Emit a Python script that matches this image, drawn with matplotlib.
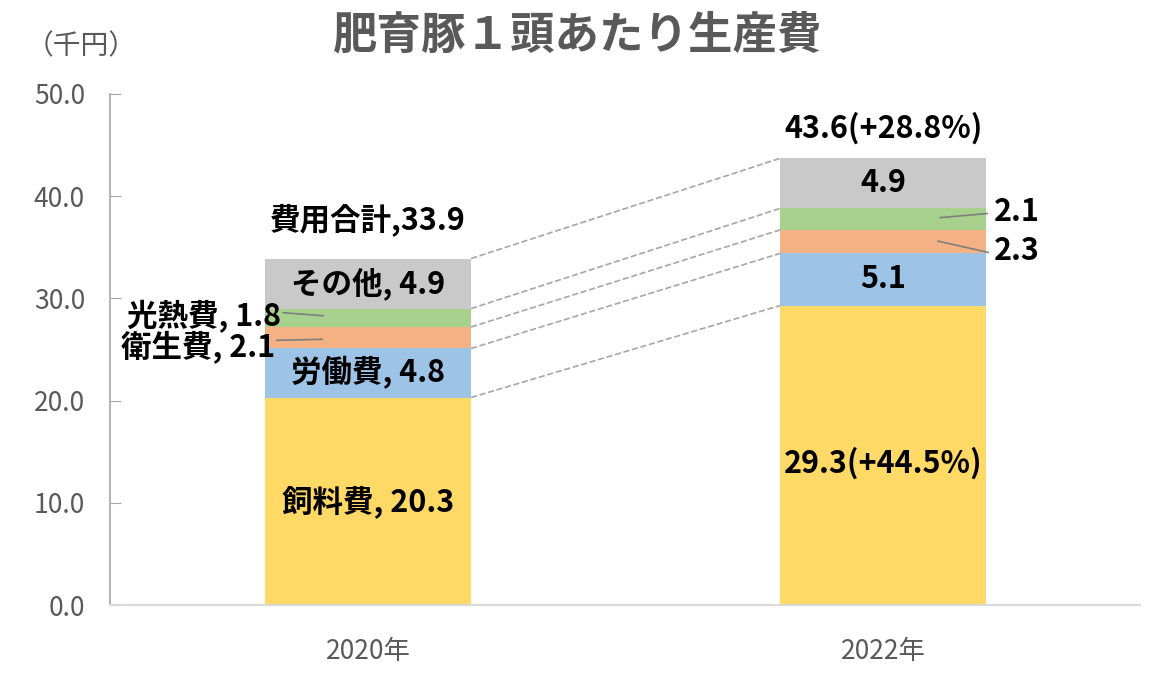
import matplotlib.pyplot as plt
import numpy as np

plt.rcParams['font.family'] = ['Noto Sans CJK JP', 'DejaVu Sans']

years = ['2020年', '2022年']
categories = ['飼料費', '労働費', '衛生費', '光熱費', 'その他']
values_2020 = [20.3, 4.8, 2.1, 1.8, 4.9]
values_2022 = [29.3, 5.1, 2.3, 2.1, 4.9]
total_2020 = 33.9
total_2022 = 43.6
change_total = 28.8
change_feed = 44.5
colors = ['#FFD966', '#9DC3E6', '#F4B183', '#A9D18E', '#C9C9C9']

fig = plt.figure(figsize=(11.56, 6.76), dpi=100)
ax = fig.add_axes([0.0952, 0.105, 0.891, 0.756])

x = np.arange(len(years))
width = 0.4
bottom = np.zeros(2)
tops = []
for i, cat in enumerate(categories):
    vals = np.array([values_2020[i], values_2022[i]])
    ax.bar(x, vals, width, bottom=bottom, color=colors[i], linewidth=0, zorder=2)
    bottom = bottom + vals
    tops.append(bottom.copy())

# 棒の間の点線
for t in tops:
    ax.plot([x[0] + width / 2, x[1] - width / 2], [t[0], t[1]],
            ls='--', color='#A6A6A6', lw=1.2, zorder=1)

lab = dict(fontsize=22, fontweight='bold', color='black', ha='center', va='center')

# 2020年ラベル
c0 = np.cumsum([0] + values_2020)
ax.text(x[0], c0[0] + values_2020[0] / 2, f'{categories[0]}, {values_2020[0]}', **lab)
ax.text(x[0], c0[1] + values_2020[1] / 2, f'{categories[1]}, {values_2020[1]}', **lab)
ax.text(x[0], c0[4] + values_2020[4] / 2, f'{categories[4]}, {values_2020[4]}', **lab)
ax.text(x[0], total_2020 + 3.8, f'費用合計,{total_2020}', **lab)
ax.text(x[0] - 0.17, c0[3] + values_2020[3] / 2 + 0.1, f'{categories[3]}, {values_2020[3]}',
        **{**lab, 'ha': 'right'})
ax.text(x[0] - 0.18, c0[2] + values_2020[2] / 2 - 0.9, f'{categories[2]}, {values_2020[2]}',
        **{**lab, 'ha': 'right'})
ax.plot([x[0] - 0.165, x[0] - 0.087], [28.6, 28.3], color='#7F7F7F', lw=1.2, zorder=3)
ax.plot([x[0] - 0.177, x[0] - 0.089], [25.9, 26.0], color='#7F7F7F', lw=1.2, zorder=3)

# 2022年ラベル
c1 = np.cumsum([0] + values_2022)
ax.text(x[1], c1[0] + values_2022[0] / 2 - 0.8, f'{values_2022[0]}(+{change_feed}%)', **lab)
ax.text(x[1], c1[1] + values_2022[1] / 2, f'{values_2022[1]}', **lab)
ax.text(x[1], c1[4] + values_2022[4] / 2, f'{values_2022[4]}', **lab)
ax.text(x[1], total_2022 + 3.0, f'{total_2022}(+{change_total}%)', **lab)
ax.text(x[1] + 0.215, 38.5, f'{values_2022[3]}', **{**lab, 'ha': 'left'})
ax.text(x[1] + 0.215, 34.6, f'{values_2022[2]}', **{**lab, 'ha': 'left'})
ax.plot([x[1] + 0.111, x[1] + 0.202], [37.9, 38.3], color='#7F7F7F', lw=1.2, zorder=3)
ax.plot([x[1] + 0.107, x[1] + 0.204], [35.6, 34.5], color='#7F7F7F', lw=1.2, zorder=3)

ax.set_xlim(-0.501, 1.499)
ax.set_ylim(0, 50)
ax.set_yticks(np.arange(0, 51, 10))
ax.set_yticklabels([f'{v:.1f}' for v in np.arange(0, 51, 10)])
ax.set_xticks(x)
ax.set_xticklabels(years)
ax.tick_params(axis='y', direction='in', length=8, color='#A6A6A6', labelsize=19,
               labelcolor='#595959', pad=18)
ax.tick_params(axis='x', length=0, labelsize=19, labelcolor='#595959', pad=24)
for s in ['top', 'right']:
    ax.spines[s].set_visible(False)
ax.spines['left'].set_color('#A6A6A6')
ax.spines['bottom'].set_color('#D9D9D9')
ax.spines['left'].set_linewidth(1.2)
ax.spines['bottom'].set_linewidth(1.5)

fig.text(0.5, 0.948, '肥育豚１頭あたり生産費', fontsize=32, fontweight='bold',
         color='#595959', ha='center', va='center')
fig.text(0.022, 0.932, '（千円）', fontsize=20, color='#595959', ha='left', va='center')

fig.savefig('out.png', dpi=100)
